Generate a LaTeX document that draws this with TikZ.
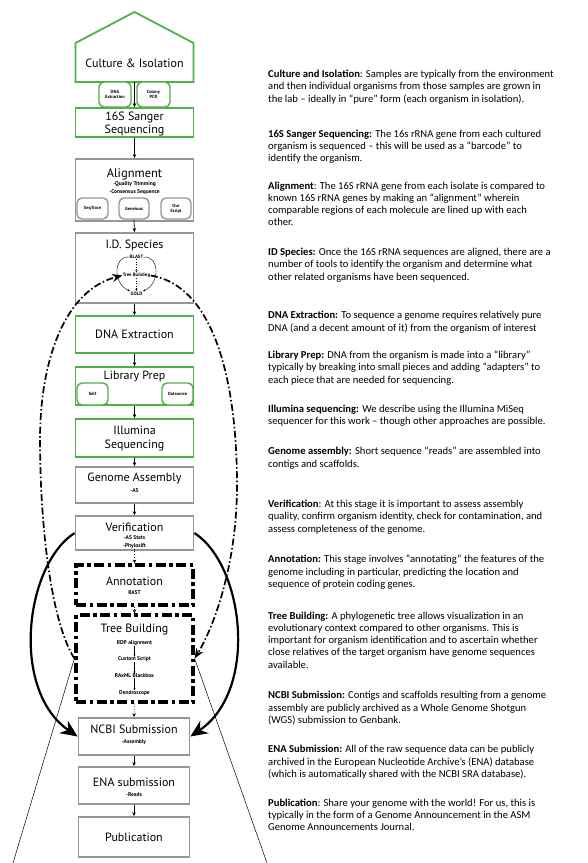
\documentclass[tikz,border=0pt]{standalone}
\usepackage{fontspec}
\setmainfont{Carlito}
\newfontfamily\boxfont{PT Sans}
\usetikzlibrary{arrows.meta}

\definecolor{boxgreen}{RGB}{80,175,72}
\definecolor{boxgray}{RGB}{150,150,150}

\tikzset{
  greenbox/.style={draw=boxgreen, line width=1.8pt, inner sep=0pt},
  graybox/.style={draw=boxgray, line width=1.8pt, inner sep=0pt},
  dashbox/.style={draw, line width=3.2pt, inner sep=0pt, dash pattern=on 10pt off 3.5pt on 3.5pt off 3.5pt},
  toolbox/.style={rounded corners=5pt, line width=1.4pt, fill=white, inner sep=0pt, align=center, font=\boxfont\bfseries\fontsize{4.5}{5}\selectfont},
  title/.style={inner sep=0pt, align=center, font=\boxfont\fontsize{12}{13.5}\selectfont},
  sub/.style={inner sep=0pt, font=\boxfont\bfseries\fontsize{5.5}{6}\selectfont},
  tiny/.style={inner sep=0.5pt, font=\boxfont\bfseries\fontsize{4.8}{5}\selectfont},
  flowarrow/.style={-{Stealth[length=4pt,width=3.5pt]}, line width=0.7pt},
  smallarrow/.style={-{Stealth[length=2.5pt,width=2.2pt]}, line width=0.4pt},
  loopline/.style={line width=1.7pt, dash pattern=on 7pt off 2.5pt on 1.5pt off 2.5pt, -{Stealth[length=10pt,width=8pt]}},
  backline/.style={line width=2.2pt, -{Stealth[length=17pt,width=15pt]}},
  para/.style={anchor=north west, align=left, inner sep=0pt, font=\fontsize{10.6}{12.25}\selectfont},
}

\begin{document}
\begin{tikzpicture}[x=1pt,y=1pt,yscale=-1]
\useasboundingbox (0,0) rectangle (588,863);

%Shape: Pentagon
\draw [boxgreen, line width=1.8pt] (75.5,82) -- (75.5,43) -- (134.5,12) -- (193.5,43) -- (193.5,82) -- cycle ;
\coordinate (cultbot) at (134.5,82);
% Text Node
\node [title] (culture) at (134.5,63) {Culture \& Isolation};

%Shape: Rectangles
\node [greenbox, minimum width=118pt, minimum height=29pt] (sanger) at (134.5,122.5) {};
\node [graybox, minimum width=118pt, minimum height=62pt] (align) at (134.5,190) {};
\node [graybox, minimum width=118pt, minimum height=70pt] (idsp) at (134.5,268) {};
\node [greenbox, minimum width=118pt, minimum height=37pt] (dnabox) at (134.5,334.5) {};
\node [greenbox, minimum width=118pt, minimum height=38pt] (libprep) at (134.5,386) {};
\node [greenbox, minimum width=118pt, minimum height=38pt] (illumina) at (134.5,438) {};
\node [graybox, minimum width=118pt, minimum height=36pt] (assembly) at (134.5,485) {};
\node [graybox, minimum width=118pt, minimum height=34pt] (verif) at (134.5,533) {};
\node [dashbox, minimum width=117pt, minimum height=40pt] (annot) at (134.5,585) {};
\node [dashbox, minimum width=117pt, minimum height=87pt] (tree) at (134.5,658.5) {};
\node [graybox, minimum width=111pt, minimum height=37pt] (ncbi) at (134,736.5) {};
\node [graybox, minimum width=111pt, minimum height=37pt] (ena) at (134,785.5) {};
\node [graybox, minimum width=111pt, minimum height=40pt] (pub) at (134,837) {};

%Shape: Rounded Rectangles
\node [toolbox, draw=boxgreen, minimum width=32pt, minimum height=25pt] (dnakit) at (115,94.5) {DNA\\Extraction};
\node [toolbox, draw=boxgreen, minimum width=33pt, minimum height=25pt] (colony) at (153.5,94.5) {Colony\\PCR};
\node [toolbox, draw=boxgray, minimum width=31pt, minimum height=21pt] (seqtrace) at (92.5,208.5) {SeqTrace};
\node [toolbox, draw=boxgray, minimum width=30pt, minimum height=21pt] (geneious) at (134,208.5) {Geneious};
\node [toolbox, draw=boxgray, minimum width=30pt, minimum height=21pt] (ourscript) at (176,208.5) {Our\\Script};
\node [toolbox, draw=boxgreen, minimum width=31pt, minimum height=22pt] (self) at (92.5,394) {Self};
\node [toolbox, draw=boxgreen, minimum width=31pt, minimum height=22pt] (outsource) at (177.5,394) {Outsource};

% Text Node
\node [title] (sangertxt) at (134.5,124) {16S Sanger\\Sequencing};
\node [title, font=\boxfont\fontsize{12.5}{13.5}\selectfont] (aligntxt) at (134.5,174) {Alignment};
\node [sub] (trim) at (134.5,184) {-Quality Trimming};
\node [sub] (consensus) at (134.5,192.5) {-Consensus Sequence};
\node [title] (idtxt) at (134.5,245) {I.D. Species};
\node [tiny] (blast) at (136.5,257) {BLAST};
\node [tiny] (idtree) at (136.5,275.5) {Tree Building};
\node [tiny] (gold) at (136.5,293.5) {GOLD};
\node [title] (dnatxt) at (134.5,334.5) {DNA Extraction};
\node [title] (libtxt) at (134.5,376) {Library Prep};
\node [title] (illtxt) at (134.5,438.5) {Illumina\\Sequencing};
\node [title] (asmtxt) at (134.5,478) {Genome Assembly};
\node [sub] (as) at (134.5,490.5) {-AS};
\node [title] (veriftxt) at (134.5,527) {Verification};
\node [sub] (asstats) at (134.5,537.5) {-AS Stats};
\node [sub] (phylosift) at (134.5,546) {-Phylosift};
\node [title] (annottxt) at (134.5,581) {Annotation};
\node [sub] (rast) at (134.5,592.5) {RAST};
\node [title] (treetxt) at (134.5,630) {Tree Building};
\node [sub] (rdp) at (134.5,643) {RDP alignment};
\node [sub] (custom) at (134.5,659.5) {Custom Script};
\node [sub] (raxml) at (134.5,676) {RAxML Blackbox};
\node [sub] (dendro) at (134.5,693) {Dendroscope};
\node [title] (ncbitxt) at (134,729.5) {NCBI Submission};
\node [sub] (asm) at (134,742) {-Assembly};
\node [title] (enatxt) at (134,782.5) {ENA submission};
\node [sub] (reads) at (134,794.5) {-Reads};
\node [title] (pubtxt) at (134,837) {Publication};

% Connection
\draw [flowarrow] (cultbot) -- (sanger.north);
\draw [flowarrow] (sanger.south) -- (align.north);
\draw [flowarrow] (geneious.south) -- (idsp.north);
\draw [flowarrow] (idsp.south) -- (dnabox.north);
\draw [flowarrow] (dnabox.south) -- (libprep.north);
\draw [flowarrow] (libprep.south) -- (illumina.north);
\draw [flowarrow] (illumina.south) -- (assembly.north);
\draw [flowarrow] (assembly.south) -- (verif.north);
\draw [flowarrow, dotted] (phylosift.south) -- (annot.north);
\draw [flowarrow, dotted] (annot.south) -- (tree.north);
\draw [flowarrow, dotted] (tree.south) -- (ncbi.north);
\draw [flowarrow] (ncbi.south) -- (ena.north);
\draw [flowarrow] (ena.south) -- (pub.north);

% Connection
\draw [smallarrow, dotted, line width=0.6pt] (blast.south) -- (idtree.north);
\draw [smallarrow, dotted, line width=0.6pt] (idtree.south) -- (gold.north);
\draw [smallarrow] (blast.west) .. controls (113,256) and (113,284) .. (gold.north west);
\draw [smallarrow] (blast.east) .. controls (160,256) and (160,284) .. (gold.north east);
\draw [smallarrow] (rdp.south) -- (custom.north);
\draw [smallarrow] (custom.south) -- (raxml.north);
\draw [smallarrow] (raxml.south) -- (dendro.north);

% Connection
\draw [loopline] (tree.west) .. controls (50,620) and (40,520) .. (40,440) .. controls (40,360) and (65,290) .. (idtree.west);
\draw [loopline] (idtree.east) .. controls (210,285) and (236,370) .. (237,480) .. controls (238,560) and (215,625) .. (tree.east);
\draw [backline] (verif.west) .. controls (25,565) and (10,690) .. (ncbi.west);
\draw [backline] (verif.east) .. controls (244,565) and (259,690) .. (ncbi.east);

%Straight Lines
\coordinate (lfoot) at (13,863);
\coordinate (rfoot) at (267,863);
\draw [line width=0.5pt] (tree.west) -- (lfoot);
\draw [line width=0.5pt] (tree.east) -- (rfoot);

% Text Node
\node [para] (p1) at (268,70) {\textbf{Culture and Isolation}: Samples are typically from the environment\\and then individual organisms from those samples are grown in\\the lab – ideally in “pure” form (each organism in isolation).};
\node [para] (p2) at (268,129.8) {\textbf{16S Sanger Sequencing:} The 16s rRNA gene from each cultured\\organism is sequenced – this will be used as a “barcode” to\\identify the organism.};
\node [para] (p3) at (268,181.6) {\textbf{Alignment}: The 16S rRNA gene from each isolate is compared to\\known 16S rRNA genes by making an “alignment” wherein\\comparable regions of each molecule are lined up with each\\other.};
\node [para] (p4) at (268,248) {\textbf{ID Species:} Once the 16S rRNA sequences are aligned, there are a\\number of tools to identify the organism and determine what\\other related organisms have been sequenced.};
\node [para] (p5) at (268,311.2) {\textbf{DNA Extraction:} To sequence a genome requires relatively pure\\DNA (and a decent amount of it) from the organism of interest};
\node [para] (p6) at (268,350.8) {\textbf{Library Prep:} DNA from the organism is made into a “library”\\typically by breaking into small pieces and adding “adapters” to\\each piece that are needed for sequencing.};
\node [para] (p7) at (268,404.5) {\textbf{Illumina sequencing:} We describe using the Illumina MiSeq\\sequencer for this work – though other approaches are possible.};
\node [para] (p8) at (268,447) {\textbf{Genome assembly:} Short sequence “reads” are assembled into\\contigs and scaffolds.};
\node [para] (p9) at (268,500) {\textbf{Verification}: At this stage it is important to assess assembly\\quality, confirm organism identity, check for contamination, and\\assess completeness of the genome.};
\node [para] (p10) at (268,555) {\textbf{Annotation:} This stage involves “annotating” the features of the\\genome including in particular, predicting the location and\\sequence of protein coding genes.};
\node [para] (p11) at (268,611.4) {\textbf{Tree Building:} A phylogenetic tree allows visualization in an\\evolutionary context compared to other organisms. This is\\important for organism identification and to ascertain whether\\close relatives of the target organism have genome sequences\\available.};
\node [para] (p12) at (268,691.3) {\textbf{NCBI Submission:} Contigs and scaffolds resulting from a genome\\assembly are publicly archived as a Whole Genome Shotgun\\(WGS) submission to Genbank.};
\node [para] (p13) at (268,745.3) {\textbf{ENA Submission:} All of the raw sequence data can be publicly\\archived in the European Nucleotide Archive’s (ENA) database\\(which is automatically shared with the NCBI SRA database).};
\node [para] (p14) at (268,798.6) {\textbf{Publication}: Share your genome with the world! For us, this is\\typically in the form of a Genome Announcement in the ASM\\Genome Announcements Journal.};

\end{tikzpicture}
\end{document}
